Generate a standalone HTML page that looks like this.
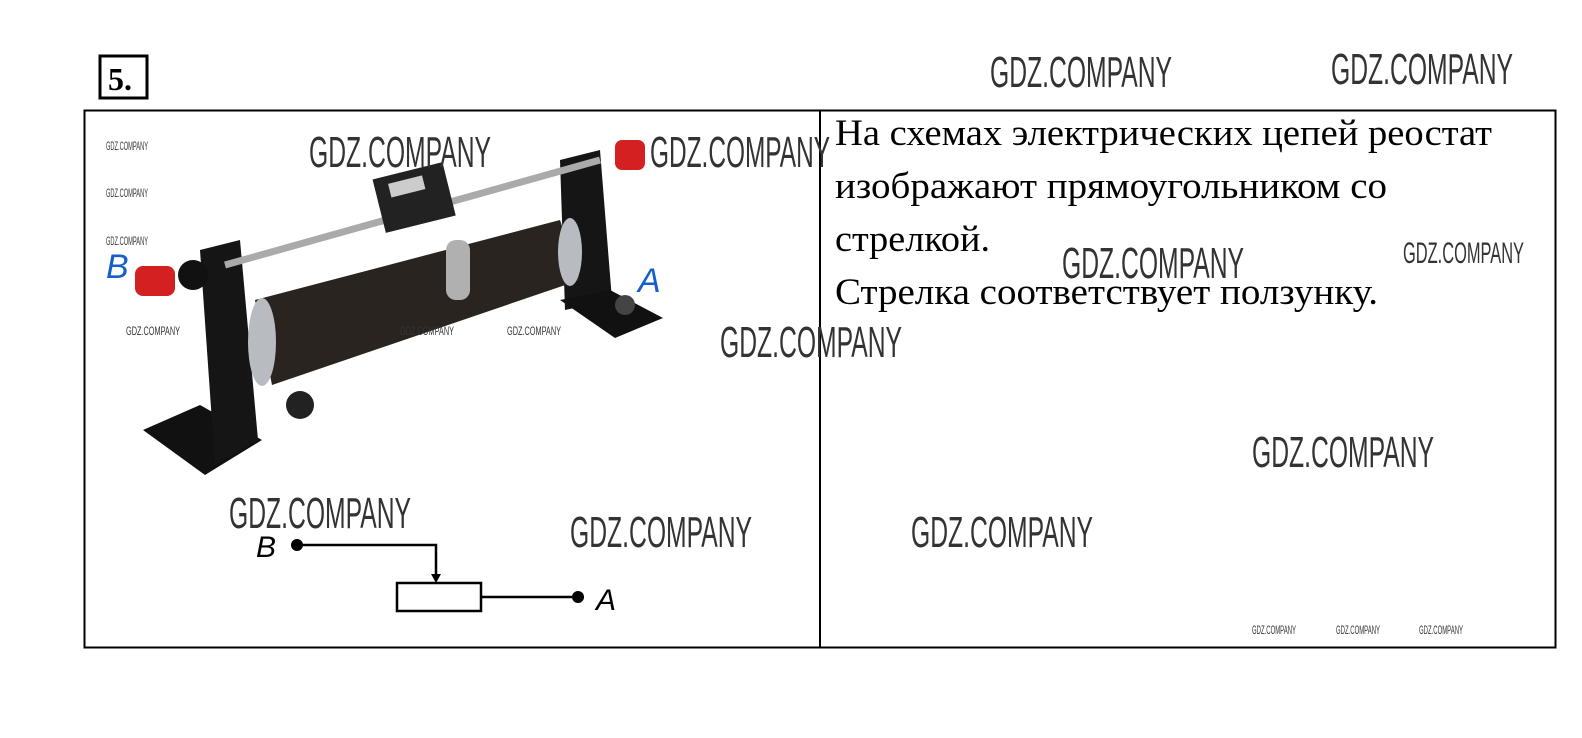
<!DOCTYPE html>
<html><head><meta charset="utf-8"><style>
html,body{margin:0;padding:0;background:#fff;}
svg{display:block;}
.w{font-family:"Liberation Sans",sans-serif;fill:#333;}
.t{font-family:"Liberation Serif",serif;font-size:37px;fill:#000;}
</style></head><body>
<svg width="1582" height="738" viewBox="0 0 1582 738" xmlns="http://www.w3.org/2000/svg">
<rect x="100" y="56" width="47" height="42" fill="none" stroke="#000" stroke-width="3"/>
<text x="108" y="90" font-family="Liberation Serif,serif" font-weight="bold" font-size="32">5.</text>
<rect x="84.5" y="110.5" width="1471" height="537" fill="none" stroke="#000" stroke-width="2"/>
<line x1="820" y1="110" x2="820" y2="648" stroke="#000" stroke-width="2"/>
<text class="t" x="835" y="145" textLength="657" lengthAdjust="spacingAndGlyphs">На схемах электрических цепей реостат</text>
<text class="t" x="835" y="198" textLength="552" lengthAdjust="spacingAndGlyphs">изображают прямоугольником со</text>
<text class="t" x="835" y="251" textLength="155" lengthAdjust="spacingAndGlyphs">стрелкой.</text>
<text class="t" x="835" y="304" textLength="543" lengthAdjust="spacingAndGlyphs">Стрелка соответствует ползунку.</text>
<!-- rheostat -->
<g>
<polygon points="143,430 200,405 262,440 205,475" fill="#111"/>
<polygon points="200,250 240,240 258,440 215,465" fill="#151515"/>
<polygon points="560,160 600,150 612,300 565,310" fill="#151515"/>
<polygon points="560,300 610,290 663,318 615,338" fill="#111"/>
<line x1="225" y1="265" x2="600" y2="160" stroke="#aaa" stroke-width="7"/>
<polygon points="255,300 560,220 580,280 272,385" fill="#2a2420"/>
<ellipse cx="262" cy="342" rx="14" ry="44" fill="#b8bcc0"/>
<ellipse cx="570" cy="252" rx="12" ry="34" fill="#b8bcc0"/>
<rect x="378" y="170" width="72" height="55" fill="#222" transform="rotate(-14 414 197)"/>
<rect x="392" y="178" width="35" height="14" fill="#ccc" transform="rotate(-14 414 197)"/>
<rect x="446" y="240" width="24" height="60" rx="10" fill="#b0b0b0"/>
<rect x="135" y="266" width="40" height="30" rx="8" fill="#d42020"/>
<circle cx="193" cy="275" r="15" fill="#111"/>
<rect x="615" y="140" width="30" height="30" rx="7" fill="#d42020"/>
<circle cx="300" cy="405" r="14" fill="#222"/>
<circle cx="625" cy="305" r="10" fill="#444"/>
<text x="106" y="278" font-family="Liberation Sans,sans-serif" font-style="italic" font-size="34" fill="#1560c8">B</text>
<text x="638" y="292" font-family="Liberation Sans,sans-serif" font-style="italic" font-size="34" fill="#1560c8">A</text>
</g>
<!-- circuit -->
<text x="256" y="557" font-family="Liberation Sans,sans-serif" font-style="italic" font-size="30">B</text>
<circle cx="297" cy="545" r="6" fill="#000"/>
<polyline points="297,545 436,545 436,578" fill="none" stroke="#000" stroke-width="2.5"/>
<polygon points="431,574 441,574 436,583" fill="#000"/>
<rect x="397" y="583" width="84" height="28" fill="none" stroke="#000" stroke-width="2.5"/>
<line x1="481" y1="597" x2="578" y2="597" stroke="#000" stroke-width="2.5"/>
<circle cx="578" cy="597" r="6" fill="#000"/>
<text x="596" y="610" font-family="Liberation Sans,sans-serif" font-style="italic" font-size="30">A</text>
<!-- watermarks -->
<g class="w" font-size="44">
<text x="990" y="87" textLength="182" lengthAdjust="spacingAndGlyphs">GDZ.COMPANY</text>
<text x="1331" y="84" textLength="182" lengthAdjust="spacingAndGlyphs">GDZ.COMPANY</text>
<text x="309" y="167" textLength="182" lengthAdjust="spacingAndGlyphs">GDZ.COMPANY</text>
<text x="650" y="167" textLength="180" lengthAdjust="spacingAndGlyphs">GDZ.COMPANY</text>
<text x="1062" y="278" textLength="182" lengthAdjust="spacingAndGlyphs">GDZ.COMPANY</text>
<text x="720" y="357" textLength="182" lengthAdjust="spacingAndGlyphs">GDZ.COMPANY</text>
<text x="1252" y="467" textLength="182" lengthAdjust="spacingAndGlyphs">GDZ.COMPANY</text>
<text x="229" y="528" textLength="182" lengthAdjust="spacingAndGlyphs">GDZ.COMPANY</text>
<text x="570" y="547" textLength="182" lengthAdjust="spacingAndGlyphs">GDZ.COMPANY</text>
<text x="911" y="547" textLength="182" lengthAdjust="spacingAndGlyphs">GDZ.COMPANY</text>
</g>
<text class="w" x="1403" y="263" font-size="30" textLength="121" lengthAdjust="spacingAndGlyphs">GDZ.COMPANY</text>
<g class="w" font-size="12">
<text x="106" y="150" textLength="42" lengthAdjust="spacingAndGlyphs">GDZ.COMPANY</text>
<text x="106" y="197" textLength="42" lengthAdjust="spacingAndGlyphs">GDZ.COMPANY</text>
<text x="106" y="245" textLength="42" lengthAdjust="spacingAndGlyphs">GDZ.COMPANY</text>
<text x="126" y="335" textLength="54" lengthAdjust="spacingAndGlyphs">GDZ.COMPANY</text>
<text x="400" y="335" textLength="54" lengthAdjust="spacingAndGlyphs">GDZ.COMPANY</text>
<text x="507" y="335" textLength="54" lengthAdjust="spacingAndGlyphs">GDZ.COMPANY</text>
<text x="1252" y="634" textLength="44" lengthAdjust="spacingAndGlyphs">GDZ.COMPANY</text>
<text x="1336" y="634" textLength="44" lengthAdjust="spacingAndGlyphs">GDZ.COMPANY</text>
<text x="1419" y="634" textLength="44" lengthAdjust="spacingAndGlyphs">GDZ.COMPANY</text>
</g>
</svg>
</body></html>
